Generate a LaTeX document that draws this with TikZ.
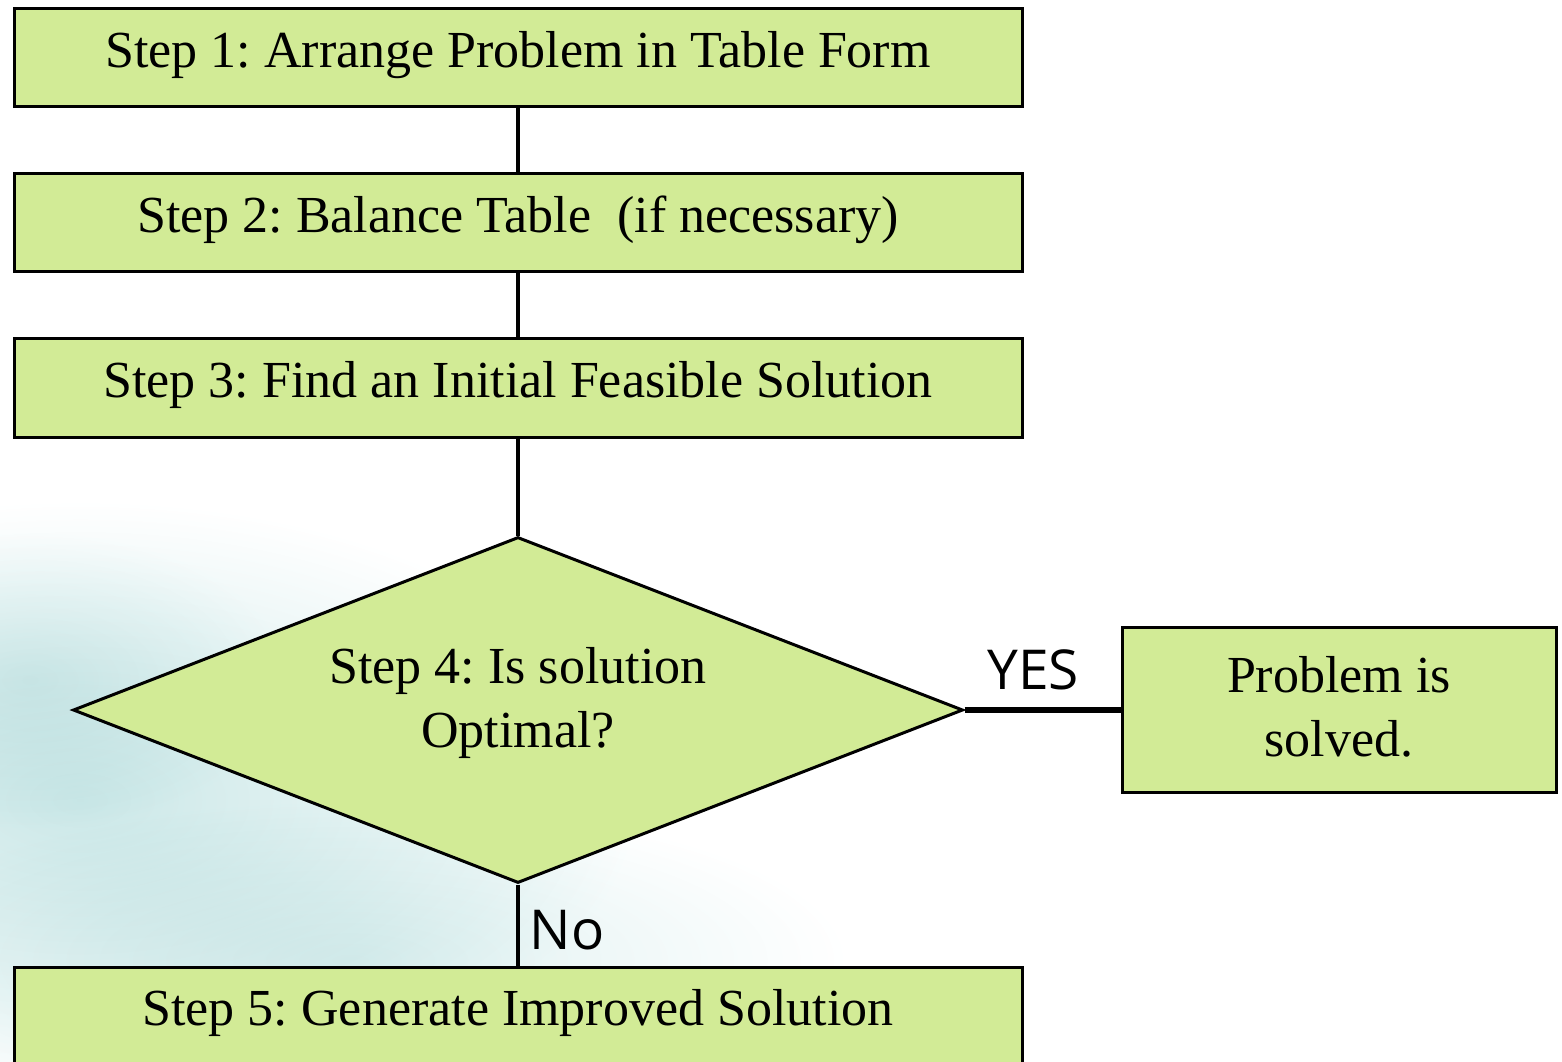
\documentclass[tikz,border=0pt]{standalone}
\usepackage{fontspec}
\setmainfont{Liberation Serif}
\newfontfamily\lblfont{Open Sans}
\usetikzlibrary{shapes.geometric}
\definecolor{boxfill}{RGB}{210,235,150}
\definecolor{watery}{RGB}{160,212,212}
\frenchspacing
\tikzset{
  stepbox/.style={draw=black, line width=3pt, fill=boxfill, rectangle, inner sep=0pt,
    font=\fontsize{52}{64}\selectfont, align=center},
  steptext/.style={font=\fontsize{52}{64}\selectfont, align=center, inner sep=0pt},
  conn/.style={draw=black, line width=4.5pt},
  lbl/.style={font=\lblfont\fontsize{55}{66}\selectfont, inner sep=0pt}
}
\begin{document}
\begin{tikzpicture}[x=1pt,y=-1pt]
\clip (0,0) rectangle (1562,1061);
\fill[white] (0,0) rectangle (1562,1061);
% watery background
\begin{scope}[blend mode=multiply]
\shade[inner color=watery!55, outer color=white] (80,800) ellipse [x radius=560, y radius=300];
\shade[inner color=watery!35, outer color=white] (350,960) ellipse [x radius=500, y radius=160];
\shade[inner color=watery!30, outer color=white] (30,680) ellipse [x radius=260, y radius=150];
\end{scope}
\node[stepbox, minimum width=1008pt, minimum height=98pt] (s1) at (518,57) {};
\node[steptext] (t1) at (518,55) {Step 1: Arrange Problem in Table Form};
\node[stepbox, minimum width=1008pt, minimum height=98pt] (s2) at (518,222) {};
\node[steptext] (t2) at (518,220) {Step 2: Balance Table\ \ (if necessary)};
\node[stepbox, minimum width=1008pt, minimum height=99pt] (s3) at (518,387.5) {};
\node[steptext] (t3) at (518,385) {Step 3: Find an Initial Feasible Solution};
\node[stepbox, diamond, aspect=2.572, minimum width=890pt, minimum height=346pt] (s4) at (518,710) {};
\node[steptext] (t4) at (518,703) {Step 4: Is solution\\Optimal?};
\node[stepbox, minimum width=434pt, minimum height=165pt] (ps) at (1339,710) {};
\node[steptext] (tps) at (1339,707) {Problem is\\solved.};
\node[stepbox, minimum width=1008pt, minimum height=98pt, anchor=north] (s5) at (518,966) {};
\node[steptext] (t5) at (518,1013) {Step 5: Generate Improved Solution};
\draw[conn] (s1.south) -- (s2.north);
\draw[conn] (s2.south) -- (s3.north);
\draw[conn] (s3.south) -- (s4.north);
\draw[conn, line width=5.5pt] (s4.east) -- (ps.west);
\draw[conn] (s4.south) -- (s5.north);
\node[lbl] (yes) at (1033,670) {YES};
\node[lbl] (no) at (567,930) {No};
\end{tikzpicture}
\end{document}
